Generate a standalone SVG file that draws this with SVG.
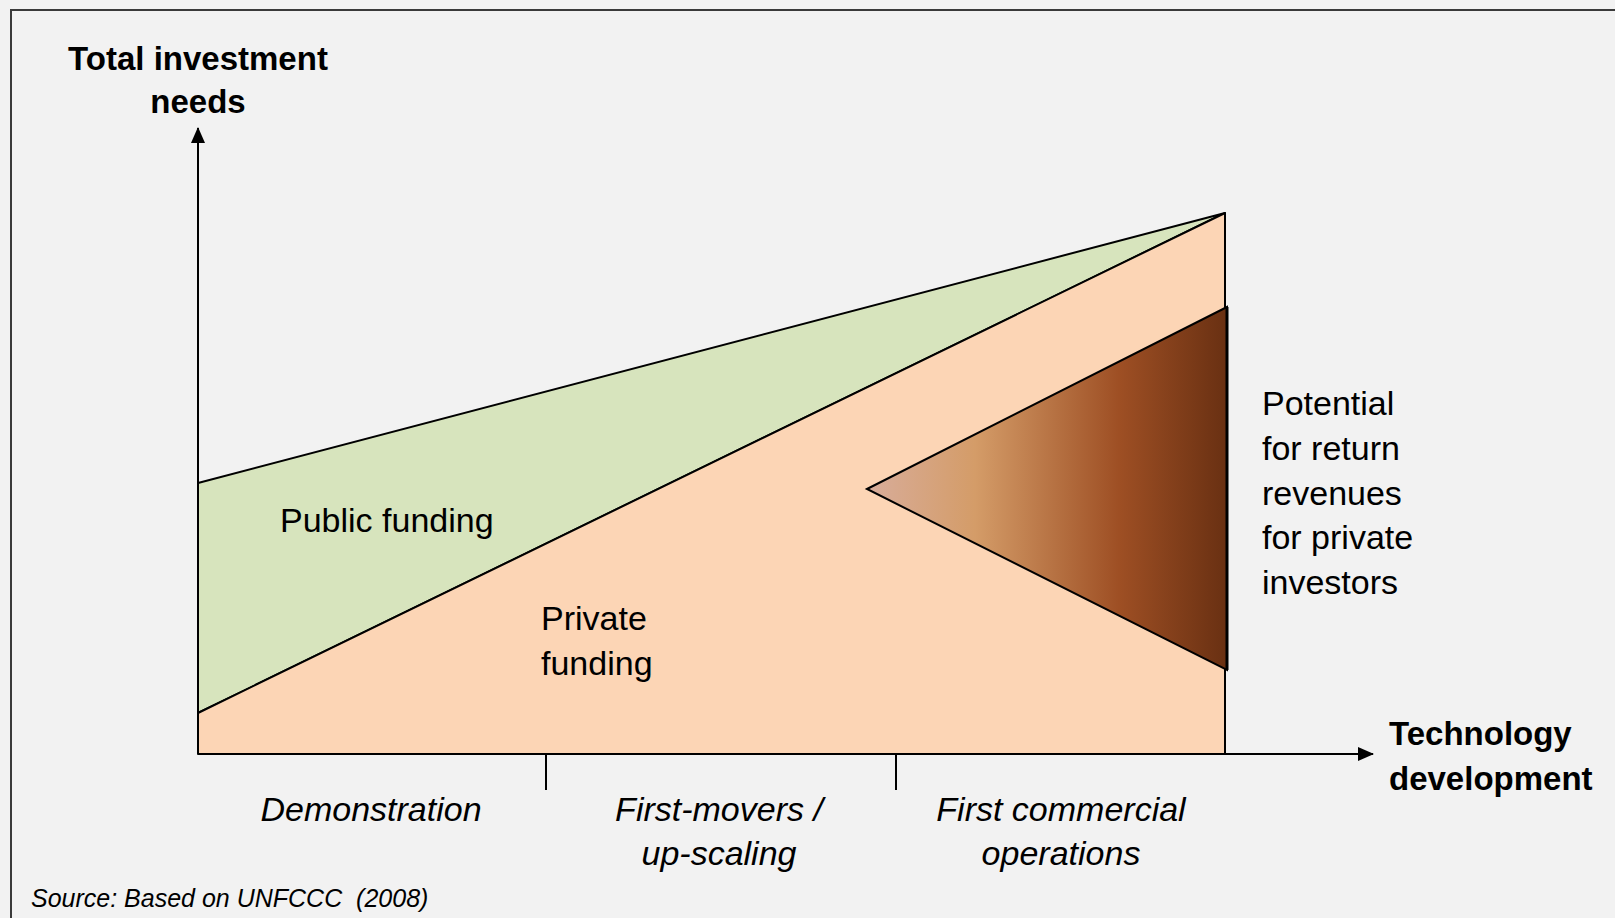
<svg xmlns="http://www.w3.org/2000/svg" width="1615" height="918" viewBox="0 0 1615 918">
<defs>
<style>
.t{font-family:"Liberation Sans",Arial,sans-serif;fill:#000}
.b{font-weight:bold;font-size:33px}
.r{font-size:34px}
.i{font-style:italic;font-size:34px}
.ln{stroke:#000;stroke-width:2;fill:none}
</style>
<linearGradient id="g" x1="867" y1="0" x2="1227" y2="0" gradientUnits="userSpaceOnUse">
<stop offset="0" stop-color="#d8ad9b"/>
<stop offset="0.3" stop-color="#d49c68"/>
<stop offset="0.7" stop-color="#9e4f24"/>
<stop offset="1" stop-color="#693012"/>
</linearGradient>
<marker id="ah" markerWidth="16" markerHeight="14" refX="15" refY="7" orient="auto" markerUnits="userSpaceOnUse">
<path d="M0,0 L16,7 L0,14 Z" fill="#000"/>
</marker>
</defs>
<rect x="0" y="0" width="1615" height="918" fill="#f2f2f2"/>
<rect x="11" y="10" width="1620" height="920" fill="none" stroke="#3a3a3a" stroke-width="2"/>
<g id="public-funding">
<polygon points="198,483 1225,213 198,713" fill="#d7e4bd" stroke="#000" stroke-width="2" stroke-linejoin="round"/>
<text class="t r" x="280" y="532">Public funding</text>
</g>
<g id="private-funding">
<polygon points="198,713 1225,213 1225,754 198,754" fill="#fcd5b5" stroke="#000" stroke-width="2" stroke-linejoin="round"/>
<text class="t r" x="541" y="630">Private</text>
<text class="t r" x="541" y="675">funding</text>
</g>
<g id="return-potential">
<polygon points="867,489 1227,307 1227,670" fill="url(#g)" stroke="#000" stroke-width="2" stroke-linejoin="miter"/>
<line x1="1227" y1="307" x2="1227" y2="670" stroke="#000" stroke-width="3"/>
<text class="t r" x="1262" y="415">Potential</text>
<text class="t r" x="1262" y="460">for return</text>
<text class="t r" x="1262" y="505">revenues</text>
<text class="t r" x="1262" y="549">for private</text>
<text class="t r" x="1262" y="594">investors</text>
</g>
<g id="connectors">
<line class="ln" x1="198" y1="754" x2="198" y2="128" marker-end="url(#ah)"/>
<line class="ln" x1="198" y1="754" x2="1373" y2="754" marker-end="url(#ah)"/>
<line class="ln" x1="546" y1="754" x2="546" y2="790"/>
<line class="ln" x1="896" y1="754" x2="896" y2="790"/>
</g>
<g id="y-axis-label">
<text class="t b" x="198" y="70" text-anchor="middle">Total investment</text>
<text class="t b" x="198" y="113" text-anchor="middle">needs</text>
</g>
<g id="x-axis-label">
<text class="t b" x="1389" y="745">Technology</text>
<text class="t b" x="1389" y="790">development</text>
</g>
<g id="phase-demonstration">
<text class="t i" x="371" y="821" text-anchor="middle">Demonstration</text>
</g>
<g id="phase-first-movers">
<text class="t i" x="719" y="821" text-anchor="middle">First-movers /</text>
<text class="t i" x="719" y="865" text-anchor="middle">up-scaling</text>
</g>
<g id="phase-commercial">
<text class="t i" x="1061" y="821" text-anchor="middle">First commercial</text>
<text class="t i" x="1061" y="865" text-anchor="middle">operations</text>
</g>
<text class="t" x="31" y="907" font-style="italic" font-size="25" xml:space="preserve">Source: Based on UNFCCC  (2008)</text>
</svg>
